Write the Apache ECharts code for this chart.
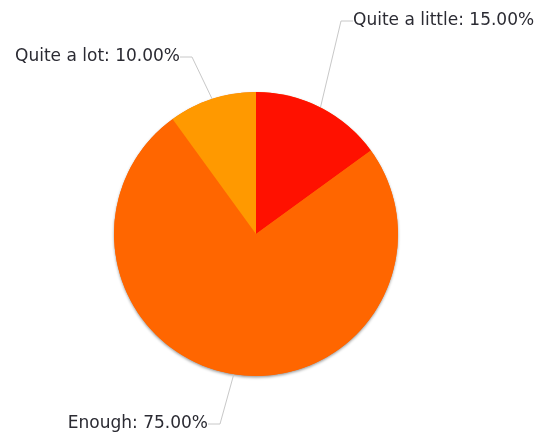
<!DOCTYPE html>
<html>
<head>
<meta charset="utf-8">
<style>
  html, body { margin: 0; padding: 0; background: #fff; }
  #chart { width: 543px; height: 432px; }
</style>
<script src="https://cdn.jsdelivr.net/npm/echarts@6/dist/echarts.min.js"></script>
</head>
<body>
<div id="chart"></div>
<script>
// Answer categories and their shares
const categories = ['Quite a little', 'Enough', 'Quite a lot'];
const values = [15, 75, 10];
const colors = ['#ff1100', '#ff6600', '#ff9900'];

// Where each label's text is anchored (px) and which side it aligns to, per category
const labelSpots = [
  { x: 353, y: 21, align: 'left' },   // Quite a little
  { x: 208, y: 424, align: 'right' }, // Enough
  { x: 180, y: 57, align: 'right' }   // Quite a lot
];

const pieCenter = [256, 234];
const pieRadius = 142;

const chart = echarts.init(document.getElementById('chart'), null, { renderer: 'canvas' });

const seriesData = categories.map((name, i) => ({
  name: name,
  value: values[i],
  itemStyle: { color: colors[i] }
}));

chart.setOption({
  animation: false,
  backgroundColor: '#ffffff',
  series: [
    {
      // soft drop shadow under the whole disc
      type: 'pie',
      silent: true,
      z: 1,
      center: pieCenter,
      radius: pieRadius,
      label: { show: false },
      labelLine: { show: false },
      data: [{ value: 1, name: '', itemStyle: { color: '#ff6600' } }],
      itemStyle: {
        shadowBlur: 3,
        shadowOffsetY: 1.5,
        shadowColor: 'rgba(0,0,0,0.4)'
      },
      tooltip: { show: false }
    },
    {
      type: 'pie',
      z: 2,
      center: pieCenter,
      radius: pieRadius,
      startAngle: 90,
      clockwise: true,
      data: seriesData,
      itemStyle: { borderWidth: 0 },
      label: {
        show: true,
        position: 'outside',
        overflow: 'none',
        color: '#2b2b33',
        fontFamily: 'DejaVu Sans',
        fontSize: 17,
        formatter: p => p.name + ': ' + p.percent.toFixed(2) + '%'
      },
      labelLine: {
        show: true,
        length: 40,
        length2: 12,
        smooth: false,
        lineStyle: { color: '#c8c8c8', width: 1 }
      },
      labelLayout: params => {
        const s = labelSpots[params.dataIndex];
        return { x: s.x, y: s.y, align: s.align, verticalAlign: 'middle' };
      }
    }
  ]
});
</script>
</body>
</html>
